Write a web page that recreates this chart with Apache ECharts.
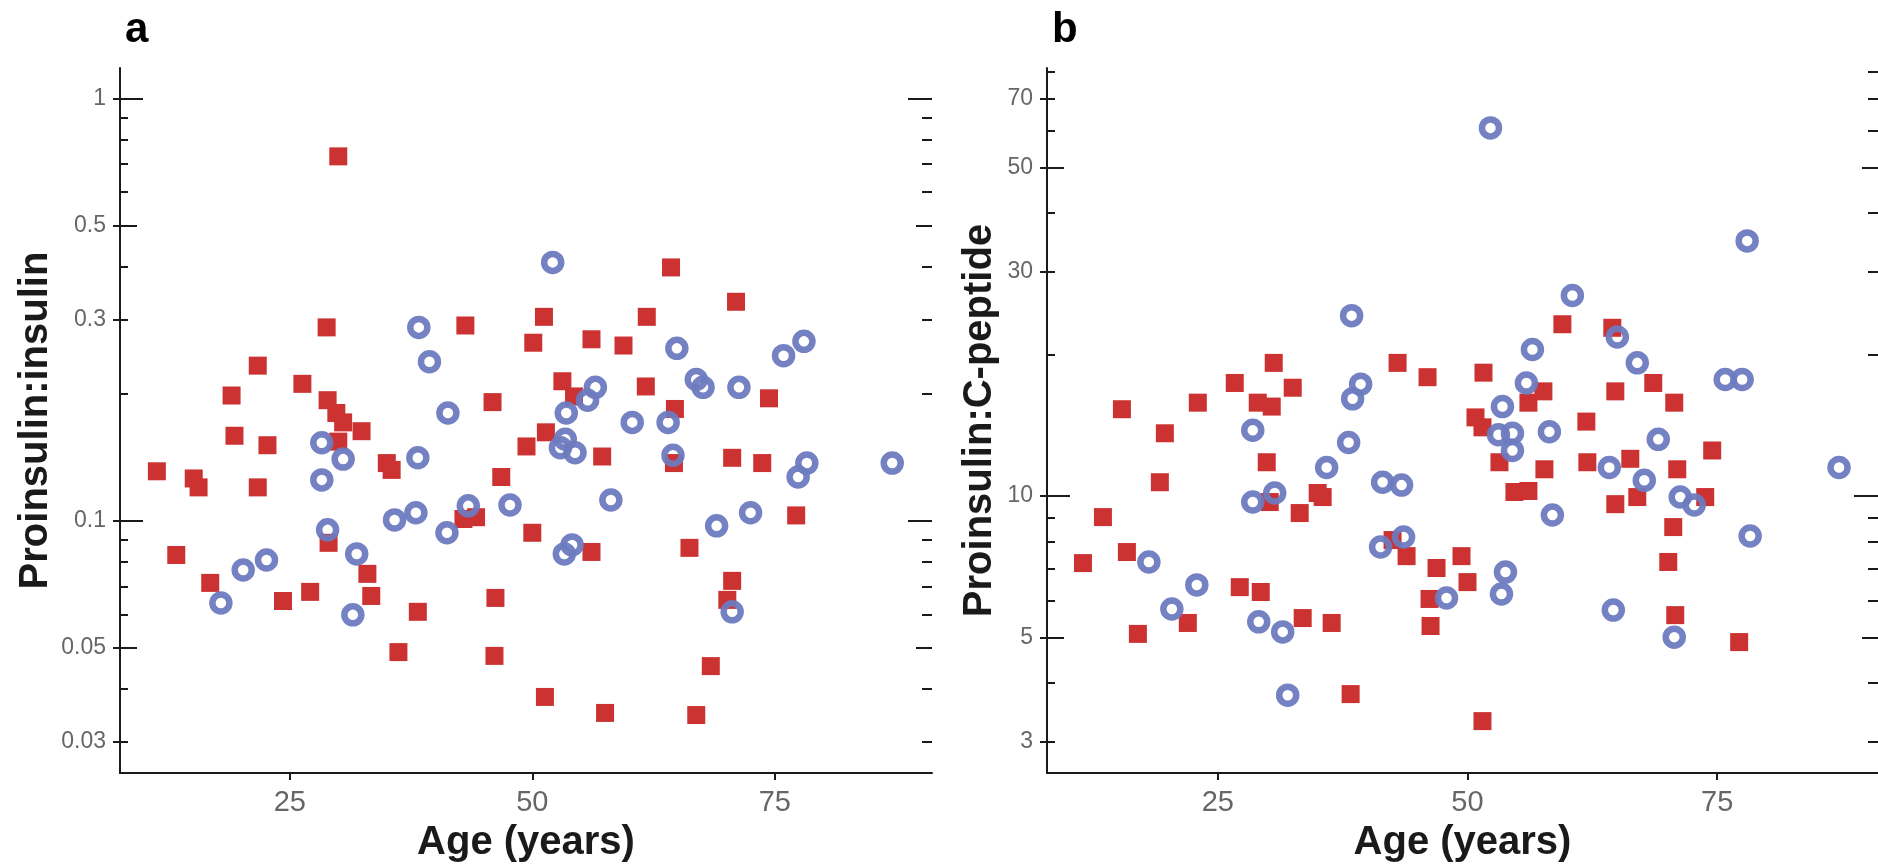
<!DOCTYPE html>
<html>
<head>
<meta charset="utf-8">
<title>Proinsulin ratios by age</title>
<script src="https://cdn.jsdelivr.net/npm/echarts@6.0.0/dist/echarts.min.js"></script>
<style>
  html, body { margin: 0; padding: 0; background: #fff; }
  #chart { width: 1878px; height: 868px; }
</style>
</head>
<body>
<div id="chart"></div>
<script>
// panel a - proinsulin:insulin
var ageRedA = [30.0, 28.8, 21.7, 19.0, 26.3, 28.9, 29.8, 30.5, 32.4, 19.3,
  22.7, 30.0, 35.0, 35.5, 11.3, 15.1, 15.6, 21.7, 13.3, 16.8,
  24.3, 27.1, 29.0, 33.0, 33.4, 38.2, 36.2, 43.1, 51.2, 61.8,
  50.1, 56.1, 59.4, 64.3, 71.0, 53.1, 61.7, 74.4, 54.3, 45.9,
  64.7, 51.4, 49.4, 57.2, 64.6, 70.6, 73.7, 46.8, 77.2, 50.0,
  56.1, 66.2, 70.6, 70.1, 46.2, 46.1, 68.4, 51.3, 57.5, 66.9,
  42.9, 44.2];
var ratioRedA = [0.729, 0.287, 0.233, 0.198, 0.211, 0.193, 0.180, 0.171, 0.163, 0.159,
  0.151, 0.154, 0.137, 0.132, 0.131, 0.126, 0.120, 0.120, 0.083, 0.0713,
  0.0646, 0.0679, 0.0887, 0.0749, 0.0664, 0.0609, 0.0489, 0.290, 0.304, 0.304,
  0.264, 0.269, 0.260, 0.398, 0.330, 0.214, 0.208, 0.195, 0.197, 0.191,
  0.184, 0.162, 0.150, 0.142, 0.137, 0.141, 0.137, 0.127, 0.103, 0.0937,
  0.0844, 0.0863, 0.0721, 0.0650, 0.0657, 0.0479, 0.0453, 0.0383, 0.0351, 0.0347,
  0.101, 0.102];
var ageBlueA = [38.3, 39.4, 41.3, 28.3, 30.5, 28.3, 38.2, 17.9, 20.2, 22.6,
  28.9, 31.9, 31.5, 35.8, 38.0, 41.2, 43.4, 52.1, 64.9, 75.9,
  78.0, 56.5, 55.7, 53.5, 66.9, 67.6, 71.3, 60.3, 64.0, 53.4,
  52.9, 54.4, 64.5, 78.3, 77.4, 87.1, 47.7, 58.1, 72.5, 69.0,
  53.3, 54.1, 70.6];
var ratioBlueA = [0.287, 0.238, 0.180, 0.153, 0.140, 0.125, 0.141, 0.0639, 0.0765, 0.0808,
  0.0952, 0.0835, 0.0599, 0.1005, 0.1045, 0.0937, 0.1085, 0.409, 0.256, 0.246,
  0.266, 0.207, 0.193, 0.180, 0.216, 0.207, 0.207, 0.171, 0.171, 0.156,
  0.149, 0.145, 0.143, 0.137, 0.127, 0.137, 0.109, 0.112, 0.1045, 0.0973,
  0.0835, 0.0877, 0.0609];

// panel b - proinsulin:C-peptide
var ageRedB = [30.6, 43.0, 26.7, 32.5, 23.0, 15.4, 29.0, 30.4, 19.7, 29.9,
  19.2, 30.2, 35.0, 35.5, 33.2, 13.5, 15.9, 11.5, 27.2, 29.3,
  22.0, 17.0, 33.5, 36.4, 38.3, 42.5, 43.9, 59.5, 64.5, 46.0,
  51.6, 68.6, 70.7, 57.6, 56.1, 64.8, 61.9, 50.8, 51.5, 53.2,
  57.7, 62.0, 66.3, 71.0, 74.5, 54.7, 56.1, 64.8, 67.0, 73.8,
  70.6, 70.1, 49.4, 46.9, 50.0, 46.2, 46.3, 70.8, 77.2, 51.5];
var ratioRedB = [19.2, 19.2, 17.4, 17.0, 15.8, 15.3, 15.8, 15.5, 13.6, 11.8,
  10.7, 9.71, 10.15, 9.95, 9.20, 9.02, 7.60, 7.20, 6.40, 6.25,
  5.37, 5.09, 5.50, 5.37, 3.79, 8.06, 7.45, 23.2, 22.8, 17.9,
  18.3, 17.4, 15.8, 16.7, 15.8, 16.7, 14.4, 14.7, 14.0, 11.8,
  11.4, 11.8, 12.0, 11.4, 12.5, 10.2, 10.25, 9.61, 9.95, 9.95,
  8.59, 7.24, 7.45, 7.03, 6.56, 6.04, 5.29, 5.58, 4.89, 3.32];
var ageBlueB = [38.4, 39.3, 38.5, 28.5, 38.1, 35.9, 41.5, 43.4, 30.7, 28.5,
  18.1, 22.9, 20.4, 29.1, 31.5, 32.0, 41.3, 43.6, 52.3, 78.0,
  60.5, 65.0, 67.0, 56.5, 75.8, 77.5, 55.9, 53.5, 53.1, 54.5,
  54.5, 58.2, 69.1, 64.2, 67.7, 87.2, 58.5, 71.3, 72.7, 78.3,
  53.8, 53.4, 47.9, 64.6, 70.7];
var ratioBlueB = [24.2, 17.3, 16.1, 13.8, 13.0, 11.5, 10.7, 10.55, 10.15, 9.71,
  7.24, 6.47, 5.75, 5.40, 5.14, 3.77, 7.79, 8.18, 60.7, 34.9,
  26.7, 21.8, 19.2, 20.5, 17.7, 17.7, 17.4, 15.5, 13.5, 13.6,
  12.5, 13.7, 13.2, 11.5, 10.8, 11.5, 9.11, 9.95, 9.57, 8.22,
  6.89, 6.19, 6.07, 5.72, 5.01];

// ticks
var ageTicks = [25, 50, 75];
var labelsA = [0.03, 0.05, 0.1, 0.3, 0.5, 1];
var decadesA = [0.1, 1];
var fivesA = [0.05, 0.5];
var minorA = [0.03, 0.04, 0.06, 0.07, 0.08, 0.09, 0.2, 0.3, 0.4, 0.6, 0.7, 0.8, 0.9];
var labelsB = [3, 5, 10, 30, 50, 70];
var decadesB = [10];
var fivesB = [5, 50];
var minorB = [3, 4, 6, 7, 8, 9, 20, 30, 40, 60, 70, 80];

// axis extents
var ageRangeA = [7.5, 91.2];
var ratioRangeA = [0.0253, 1.18];
var ageRangeB = [7.9, 91.1];
var ratioRangeB = [2.575, 81.4];

var RED = '#cc3232';
var BLUE = '#6d7abf';
var INK = '#1a1a1a';
var GREY = '#666666';
var FONT = '"Liberation Sans", Arial, Helvetica, sans-serif';

function zip(xs, ys) {
  var out = [];
  for (var i = 0; i < xs.length; i++) out.push([xs[i], ys[i]]);
  return out;
}

function xAxisFor(grid, range) {
  return {
    type: 'value', gridIndex: grid, min: range[0], max: range[1],
    name: 'Age (years)', nameLocation: 'middle', nameGap: 50,
    nameTextStyle: { fontFamily: FONT, fontWeight: 'bold', fontSize: 40, color: INK },
    axisLine: { show: true, onZero: false, lineStyle: { color: INK, width: 2 } },
    axisTick: { show: true, length: 7, customValues: ageTicks, lineStyle: { color: INK, width: 2 } },
    axisLabel: { show: true, customValues: ageTicks, margin: 15, fontSize: 29, color: GREY, fontFamily: FONT },
    splitLine: { show: false }
  };
}

// left axis with labels and short outside ticks
function labelAxis(grid, range, labels, name, gap) {
  return {
    type: 'log', logBase: 10, gridIndex: grid, min: range[0], max: range[1], position: 'left',
    name: name, nameLocation: 'middle', nameGap: gap, nameRotate: 90,
    nameTextStyle: { fontFamily: FONT, fontWeight: 'bold', fontSize: 40, color: INK },
    axisLine: { show: true, onZero: false, lineStyle: { color: INK, width: 2 } },
    axisTick: { show: true, inside: false, length: 7, customValues: labels, lineStyle: { color: INK, width: 2 } },
    axisLabel: {
      show: true, customValues: labels, margin: 14, fontSize: 23, color: GREY, fontFamily: FONT,
      formatter: function (v) { return String(parseFloat(Number(v).toPrecision(4))); }
    },
    splitLine: { show: false }
  };
}

// extra log axes that only draw inward ticks of one length
function tickAxis(grid, range, side, values, len) {
  return {
    type: 'log', logBase: 10, gridIndex: grid, min: range[0], max: range[1], position: side,
    axisLine: { show: false, onZero: false },
    axisLabel: { show: false },
    splitLine: { show: false },
    axisTick: { show: true, inside: true, length: len, customValues: values, lineStyle: { color: INK, width: 2 } }
  };
}

function yAxesFor(grid, range, labels, decades, fives, minor, name, gap) {
  return [
    labelAxis(grid, range, labels, name, gap),
    tickAxis(grid, range, 'left', decades, 23),
    tickAxis(grid, range, 'left', fives, 17),
    tickAxis(grid, range, 'left', minor, 8),
    tickAxis(grid, range, 'right', decades, 24),
    tickAxis(grid, range, 'right', fives, 16),
    tickAxis(grid, range, 'right', minor, 10)
  ];
}

function redSeries(xi, yi, xs, ys) {
  return {
    type: 'scatter', xAxisIndex: xi, yAxisIndex: yi, data: zip(xs, ys),
    symbol: 'rect', symbolSize: 18, silent: true,
    itemStyle: { color: RED, opacity: 1 }
  };
}

function blueSeries(xi, yi, xs, ys) {
  return {
    type: 'scatter', xAxisIndex: xi, yAxisIndex: yi, data: zip(xs, ys),
    symbol: 'circle', symbolSize: 17, silent: true,
    itemStyle: { color: 'rgba(255,255,255,0)', borderColor: BLUE, borderWidth: 6.5, opacity: 0.95 }
  };
}

var chart = echarts.init(document.getElementById('chart'), null, { renderer: 'canvas' });

var option = {
  animation: false,
  backgroundColor: '#ffffff',
  title: [
    { text: 'a', left: 120, top: 4, textStyle: { fontFamily: FONT, fontWeight: 'bold', fontSize: 42, color: '#000' } },
    { text: 'b', left: 1047, top: 4, textStyle: { fontFamily: FONT, fontWeight: 'bold', fontSize: 42, color: '#000' } }
  ],
  grid: [
    { left: 120, right: 946, top: 68, bottom: 95, outerBoundsMode: 'none' },
    { left: 1047, right: 0, top: 68, bottom: 95, outerBoundsMode: 'none' }
  ],
  xAxis: [xAxisFor(0, ageRangeA), xAxisFor(1, ageRangeB)],
  yAxis: [].concat(
    yAxesFor(0, ratioRangeA, labelsA, decadesA, fivesA, minorA, 'Proinsulin:insulin', 64),
    yAxesFor(1, ratioRangeB, labelsB, decadesB, fivesB, minorB, 'Proinsulin:C-peptide', 47)
  ),
  series: [
    redSeries(0, 0, ageRedA, ratioRedA),
    blueSeries(0, 0, ageBlueA, ratioBlueA),
    redSeries(1, 7, ageRedB, ratioRedB),
    blueSeries(1, 7, ageBlueB, ratioBlueB)
  ]
};

chart.setOption(option);
</script>
</body>
</html>
